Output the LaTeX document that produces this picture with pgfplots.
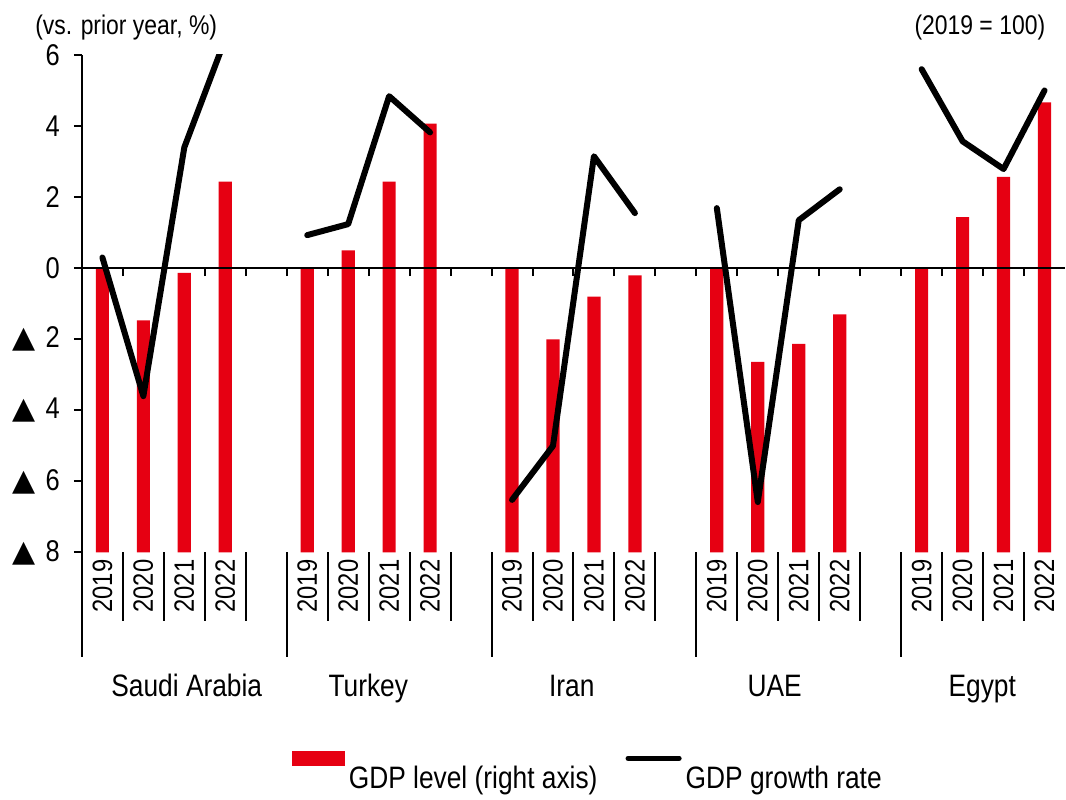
\documentclass[border=0pt]{standalone}
\usepackage{fontspec}
\setmainfont{Liberation Sans}[FakeStretch=0.85]
\newfontfamily\symfont{DejaVu Sans}
\usepackage{pgfplots}
\usepackage{pgfplotstable}
\pgfplotsset{compat=1.18}
\definecolor{barred}{HTML}{E60012}
\newcommand\tri[1]{{\symfont ▲}\hspace{5pt}#1}

% GDP level, 2019 = 100 (right axis, unlabeled)
\pgfplotstableread{
x idx
0 100
1 95.6
2 99.6
3 107.3
5 100
6 101.5
7 107.3
8 112.2
10 100
11 94.0
12 97.6
13 99.4
15 100
16 92.1
17 93.6
18 96.1
20 100
21 104.3
22 107.7
23 114.0
}\levels

\pgfplotsset{base/.style={width=492pt,height=249pt,scale only axis,xmin=-0.5,xmax=23.5}}
\begin{document}
\begin{tikzpicture}
% ---- bars (right axis, 2019 = 100)
\begin{axis}[base, ymin=76, ymax=118,
  axis line style={draw=none}, tick style={draw=none}, ytick=\empty,
  xtick={0,1,2,3,5,6,7,8,10,11,12,13,15,16,17,18,20,21,22,23},
  xticklabels={2019,2020,2021,2022,2019,2020,2021,2022,2019,2020,2021,2022,2019,2020,2021,2022,2019,2020,2021,2022},
  xticklabel style={rotate=90, anchor=east, font=\fontsize{14}{16}\selectfont}]
\addplot[ybar, bar width=6.6pt, fill=barred, draw=none] table[x=x,y=idx]{\levels};
\end{axis}
% ---- growth line (left axis)
\begin{axis}[base, ymin=-8, ymax=6,
  axis y line*=left, axis x line*=middle, tick align=outside,
  axis line style={line width=1pt, black}, tick style={line width=1pt, black},
  major tick length=4pt,
  xtick={0.5,1.5,...,22.5}, xticklabels={},
  ytick={-8,-6,...,6}, yticklabels={\tri{8},\tri{6},\tri{4},\tri{2},0,2,4,6},
  yticklabel style={font=\fontsize{15}{17}\selectfont, xshift=-3.5pt},
  legend columns=2,
  legend style={at={(rel axis cs:0.2073,-0.39)}, anchor=north west, draw=none, fill=none,
    font=\fontsize{15.5}{18}\selectfont, /tikz/every even column/.append style={column sep=12pt}}]
\addlegendimage{legend image code/.code={\fill[barred] (0pt,6.5pt) rectangle (26pt,13.5pt);}}
\addlegendentry{GDP level (right axis)}
\addplot[black, line width=3pt, line join=round, line cap=round,
  legend image code/.code={\draw[line width=2.6pt, line cap=round] (1.5pt,10pt) -- (27pt,10pt);}]
  coordinates {(0,0.3) (1,-3.6) (2,3.4) (3,6.45)};
\addlegendentry{GDP growth rate}
\addplot[black, line width=3pt, line join=round, line cap=round, forget plot]
  coordinates {(5,0.93) (6,1.24) (7,4.84) (8,3.82)};
\addplot[black, line width=3pt, line join=round, line cap=round, forget plot]
  coordinates {(10,-6.52) (11,-5.0) (12,3.15) (13,1.55)};
\addplot[black, line width=3pt, line join=round, line cap=round, forget plot]
  coordinates {(15,1.69) (16,-6.58) (17,1.35) (18,2.22)};
\addplot[black, line width=3pt, line join=round, line cap=round, forget plot]
  coordinates {(20,5.6) (21,3.57) (22,2.79) (23,5.0)};
\end{axis}
% ---- decorations: separators, country names, unit labels
\begin{axis}[base, ymin=-8, ymax=6, clip=false,
  axis line style={draw=none}, tick style={draw=none}, ytick=\empty,
  xtick={2.06,6.49,11.46,16.41,21.48},
  xticklabels={Saudi Arabia,Turkey,Iran,UAE,Egypt},
  xticklabel style={anchor=base, yshift=-72pt, font=\fontsize{15.5}{18}\selectfont}]
\draw[line width=1pt] (axis cs:-0.5,-8) -- ++(0pt,-52.5pt);
\draw[line width=1pt] (axis cs:4.5,-8) -- ++(0pt,-52.5pt);
\draw[line width=1pt] (axis cs:9.5,-8) -- ++(0pt,-52.5pt);
\draw[line width=1pt] (axis cs:14.5,-8) -- ++(0pt,-52.5pt);
\draw[line width=1pt] (axis cs:19.5,-8) -- ++(0pt,-52.5pt);
\draw[line width=1pt] (axis cs:0.5,-8) -- ++(0pt,-34.5pt);
\draw[line width=1pt] (axis cs:1.5,-8) -- ++(0pt,-34.5pt);
\draw[line width=1pt] (axis cs:2.5,-8) -- ++(0pt,-34.5pt);
\draw[line width=1pt] (axis cs:3.5,-8) -- ++(0pt,-34.5pt);
\draw[line width=1pt] (axis cs:5.5,-8) -- ++(0pt,-34.5pt);
\draw[line width=1pt] (axis cs:6.5,-8) -- ++(0pt,-34.5pt);
\draw[line width=1pt] (axis cs:7.5,-8) -- ++(0pt,-34.5pt);
\draw[line width=1pt] (axis cs:8.5,-8) -- ++(0pt,-34.5pt);
\draw[line width=1pt] (axis cs:10.5,-8) -- ++(0pt,-34.5pt);
\draw[line width=1pt] (axis cs:11.5,-8) -- ++(0pt,-34.5pt);
\draw[line width=1pt] (axis cs:12.5,-8) -- ++(0pt,-34.5pt);
\draw[line width=1pt] (axis cs:13.5,-8) -- ++(0pt,-34.5pt);
\draw[line width=1pt] (axis cs:15.5,-8) -- ++(0pt,-34.5pt);
\draw[line width=1pt] (axis cs:16.5,-8) -- ++(0pt,-34.5pt);
\draw[line width=1pt] (axis cs:17.5,-8) -- ++(0pt,-34.5pt);
\draw[line width=1pt] (axis cs:18.5,-8) -- ++(0pt,-34.5pt);
\draw[line width=1pt] (axis cs:20.5,-8) -- ++(0pt,-34.5pt);
\draw[line width=1pt] (axis cs:21.5,-8) -- ++(0pt,-34.5pt);
\draw[line width=1pt] (axis cs:22.5,-8) -- ++(0pt,-34.5pt);
\node[anchor=base west, inner sep=0pt, font=\fontsize{13.5}{16}\selectfont]
  at (rel axis cs:-0.0478,1.0402) {(vs. prior year, \%)};
\node[anchor=base west, inner sep=0pt, font=\fontsize{13.5}{16}\selectfont]
  at (rel axis cs:0.8465,1.0402) {(2019 = 100)};
\path (rel axis cs:0,0) ++(-41pt,-119pt) coordinate (bbl);
\path (rel axis cs:1,1) ++(0pt,27.5pt) coordinate (btr);
\path (bbl) rectangle (btr);
\end{axis}
\end{tikzpicture}
\end{document}
